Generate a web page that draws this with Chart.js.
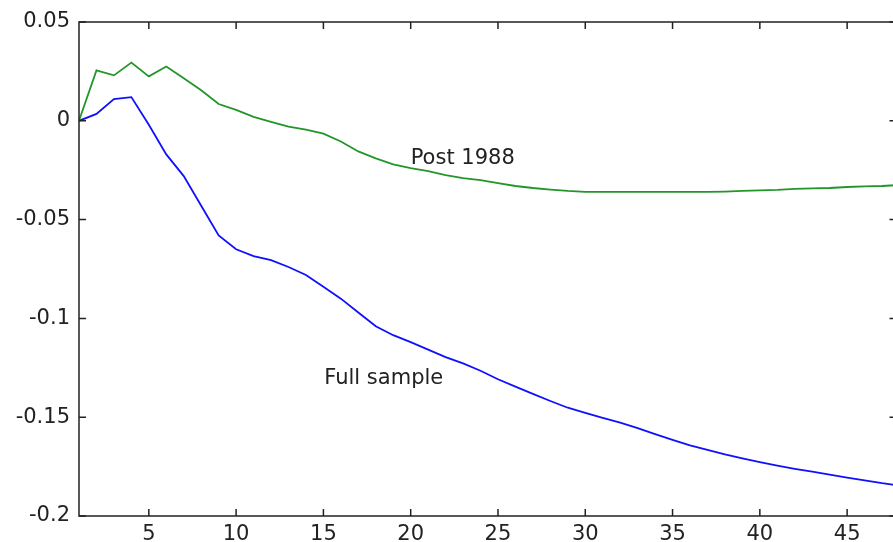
<!DOCTYPE html>
<html>
<head>
<meta charset="utf-8">
<script src="https://cdn.jsdelivr.net/npm/chart.js@4/dist/chart.umd.min.js"></script>
<style>
  html, body { margin: 0; padding: 0; background: #fff; overflow: hidden; }
  #wrap { width: 910px; height: 542px; }
</style>
</head>
<body>
<div id="wrap"><canvas id="irf" width="910" height="542"></canvas></div>
<script>
// horizon (periods)
var periods = [1, 2, 3, 4, 5, 6, 7, 8, 9, 10, 11, 12, 13, 14, 15, 16, 17, 18, 19, 20, 21, 22, 23, 24,
  25, 26, 27, 28, 29, 30, 31, 32, 33, 34, 35, 36, 37, 38, 39, 40, 41, 42, 43, 44, 45, 46, 47, 48];

// responses
var fullSample = [0, 0.0035, 0.011, 0.012, -0.002, -0.017, -0.028, -0.043, -0.058, -0.065, -0.0685, -0.0705,
  -0.074, -0.078, -0.084, -0.090, -0.097, -0.104, -0.1085, -0.112, -0.1158, -0.1196, -0.1228, -0.1265,
  -0.1308, -0.1345, -0.1382, -0.1418, -0.1452, -0.1478, -0.1503, -0.1528, -0.1555, -0.1586, -0.1615, -0.1642,
  -0.1665, -0.1688, -0.1708, -0.1727, -0.1745, -0.1761, -0.1776, -0.1791, -0.1806, -0.182, -0.1834, -0.1846];

var post1988 = [0, 0.0255, 0.023, 0.0295, 0.0225, 0.0275, 0.0215, 0.0155, 0.0085, 0.0055, 0.002, -0.0005,
  -0.003, -0.0045, -0.0065, -0.0105, -0.0155, -0.019, -0.022, -0.024, -0.0255, -0.0275, -0.029, -0.030,
  -0.0315, -0.033, -0.034, -0.0348, -0.0355, -0.036, -0.036, -0.036, -0.036, -0.036, -0.036, -0.036,
  -0.036, -0.0358, -0.0355, -0.0352, -0.035, -0.0345, -0.0342, -0.034, -0.0335, -0.0332, -0.033, -0.0325];

var xTicks = [5, 10, 15, 20, 25, 30, 35, 40, 45];
var yTicks = [-0.2, -0.15, -0.1, -0.05, 0, 0.05];
var yTickLabels = ["-0.2", "-0.15", "-0.1", "-0.05", "0", "0.05"];

// text labels placed at data coordinates
var seriesNotes = [
  { text: "Post 1988", x: 20.0, y: -0.0192 },
  { text: "Full sample", x: 15.05, y: -0.1306 }
];

var FONT = '21px "DejaVu Sans"';

function toPoints(ys) {
  return periods.map(function(p, i) { return { x: p, y: ys[i] }; });
}

//frame with inward ticks on all four sides + notes
var framePlugin = {
  id: 'frame',
  afterDraw: function(chart) {
    var ctx = chart.ctx;
    var a = chart.chartArea;
    var xs = chart.scales.x, ys = chart.scales.y;
    var tl = 7;
    ctx.save();
    ctx.strokeStyle = '#222';
    ctx.lineWidth = 1.5;
    ctx.strokeRect(a.left, a.top, a.right - a.left, a.bottom - a.top);
    ctx.beginPath();
    xTicks.forEach(function(v) {
      var px = xs.getPixelForValue(v);
      ctx.moveTo(px, a.bottom); ctx.lineTo(px, a.bottom - tl);
      ctx.moveTo(px, a.top); ctx.lineTo(px, a.top + tl);
    });
    yTicks.forEach(function(v) {
      var py = ys.getPixelForValue(v);
      ctx.moveTo(a.left, py); ctx.lineTo(a.left + tl, py);
      ctx.moveTo(a.right, py); ctx.lineTo(a.right - tl - 3, py);
    });
    ctx.stroke();

    ctx.fillStyle = '#222';
    ctx.font = FONT;
    ctx.textAlign = 'left';
    ctx.textBaseline = 'middle';
    seriesNotes.forEach(function(n) {
      ctx.fillText(n.text, xs.getPixelForValue(n.x), ys.getPixelForValue(n.y));
    });
    ctx.restore();
  }
};

var ctx = document.getElementById('irf').getContext('2d');
var irfChart = new Chart(ctx, {
  type: 'line',
  data: {
    datasets: [{
      label: 'Post 1988',
      data: toPoints(post1988),
      borderColor: '#22962a',
      borderWidth: 1.8,
      pointRadius: 0,
      tension: 0,
      fill: false
    }, {
      label: 'Full sample',
      data: toPoints(fullSample),
      borderColor: '#1010ff',
      borderWidth: 1.8,
      pointRadius: 0,
      tension: 0,
      fill: false
    }]
  },
  options: {
    responsive: false,
    animation: false,
    layout: { padding: { top: 22, right: 10.5, left: 0, bottom: 0 } },
    plugins: {
      legend: { display: false },
      tooltip: { enabled: false }
    },
    scales: {
      x: {
        type: 'linear',
        min: 1,
        max: 48,
        afterBuildTicks: function(scale) {
          scale.ticks = xTicks.map(function(v) { return { value: v }; });
        },
        afterFit: function(scale) { scale.height = 26; },
        grid: { drawOnChartArea: false, drawTicks: false },
        border: { display: false },
        ticks: {
          padding: 6,
          color: '#222',
          font: { family: 'DejaVu Sans', size: 21 },
          maxRotation: 0,
          autoSkip: false,
          callback: function(v) { return String(v); }
        }
      },
      y: {
        type: 'linear',
        min: -0.2,
        max: 0.05,
        afterBuildTicks: function(scale) {
          scale.ticks = yTicks.map(function(v) { return { value: v }; });
        },
        afterFit: function(scale) { scale.width = 79; },
        grid: { drawOnChartArea: false, drawTicks: false },
        border: { display: false },
        ticks: {
          padding: 9,
          color: '#222',
          font: { family: 'DejaVu Sans', size: 21 },
          autoSkip: false,
          callback: function(v, i) { return yTickLabels[i]; }
        }
      }
    }
  },
  plugins: [framePlugin]
});
</script>
</body>
</html>
